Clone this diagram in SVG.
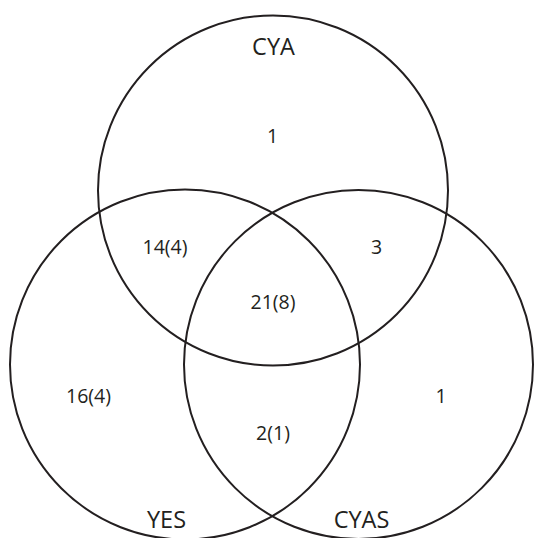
<svg xmlns="http://www.w3.org/2000/svg" width="534" height="538" viewBox="0 0 534 538">
  <style>
    .set { fill: none; stroke: #231f20; stroke-width: 2; }
    .label { font-family: "Open Sans", "Liberation Sans", sans-serif; font-size: 23.5px; fill: #231f20; text-anchor: middle; }
    .count { font-family: "Open Sans", "Liberation Sans", sans-serif; font-size: 19.5px; fill: #231f20; text-anchor: middle; }
  </style>
  <rect width="534" height="538" fill="#ffffff"/>
  <g id="set-cya">
    <circle class="set" cx="273" cy="190.5" r="175"/>
    <text class="label" x="273.5" y="54.5">CYA</text>
  </g>
  <g id="set-yes">
    <circle class="set" cx="185" cy="364.5" r="175"/>
    <text class="label" x="166.5" y="527.5">YES</text>
  </g>
  <g id="set-cyas">
    <circle class="set" cx="358.5" cy="364.5" r="174.5"/>
    <text class="label" x="361.5" y="527.5">CYAS</text>
  </g>
  <g id="counts">
    <text class="count" x="272.5" y="143">1</text>
    <text class="count" x="165" y="254">14(4)</text>
    <text class="count" x="376.5" y="254">3</text>
    <text class="count" x="273" y="309">21(8)</text>
    <text class="count" x="88.5" y="403">16(4)</text>
    <text class="count" x="441" y="403">1</text>
    <text class="count" x="273" y="440">2(1)</text>
  </g>
</svg>
